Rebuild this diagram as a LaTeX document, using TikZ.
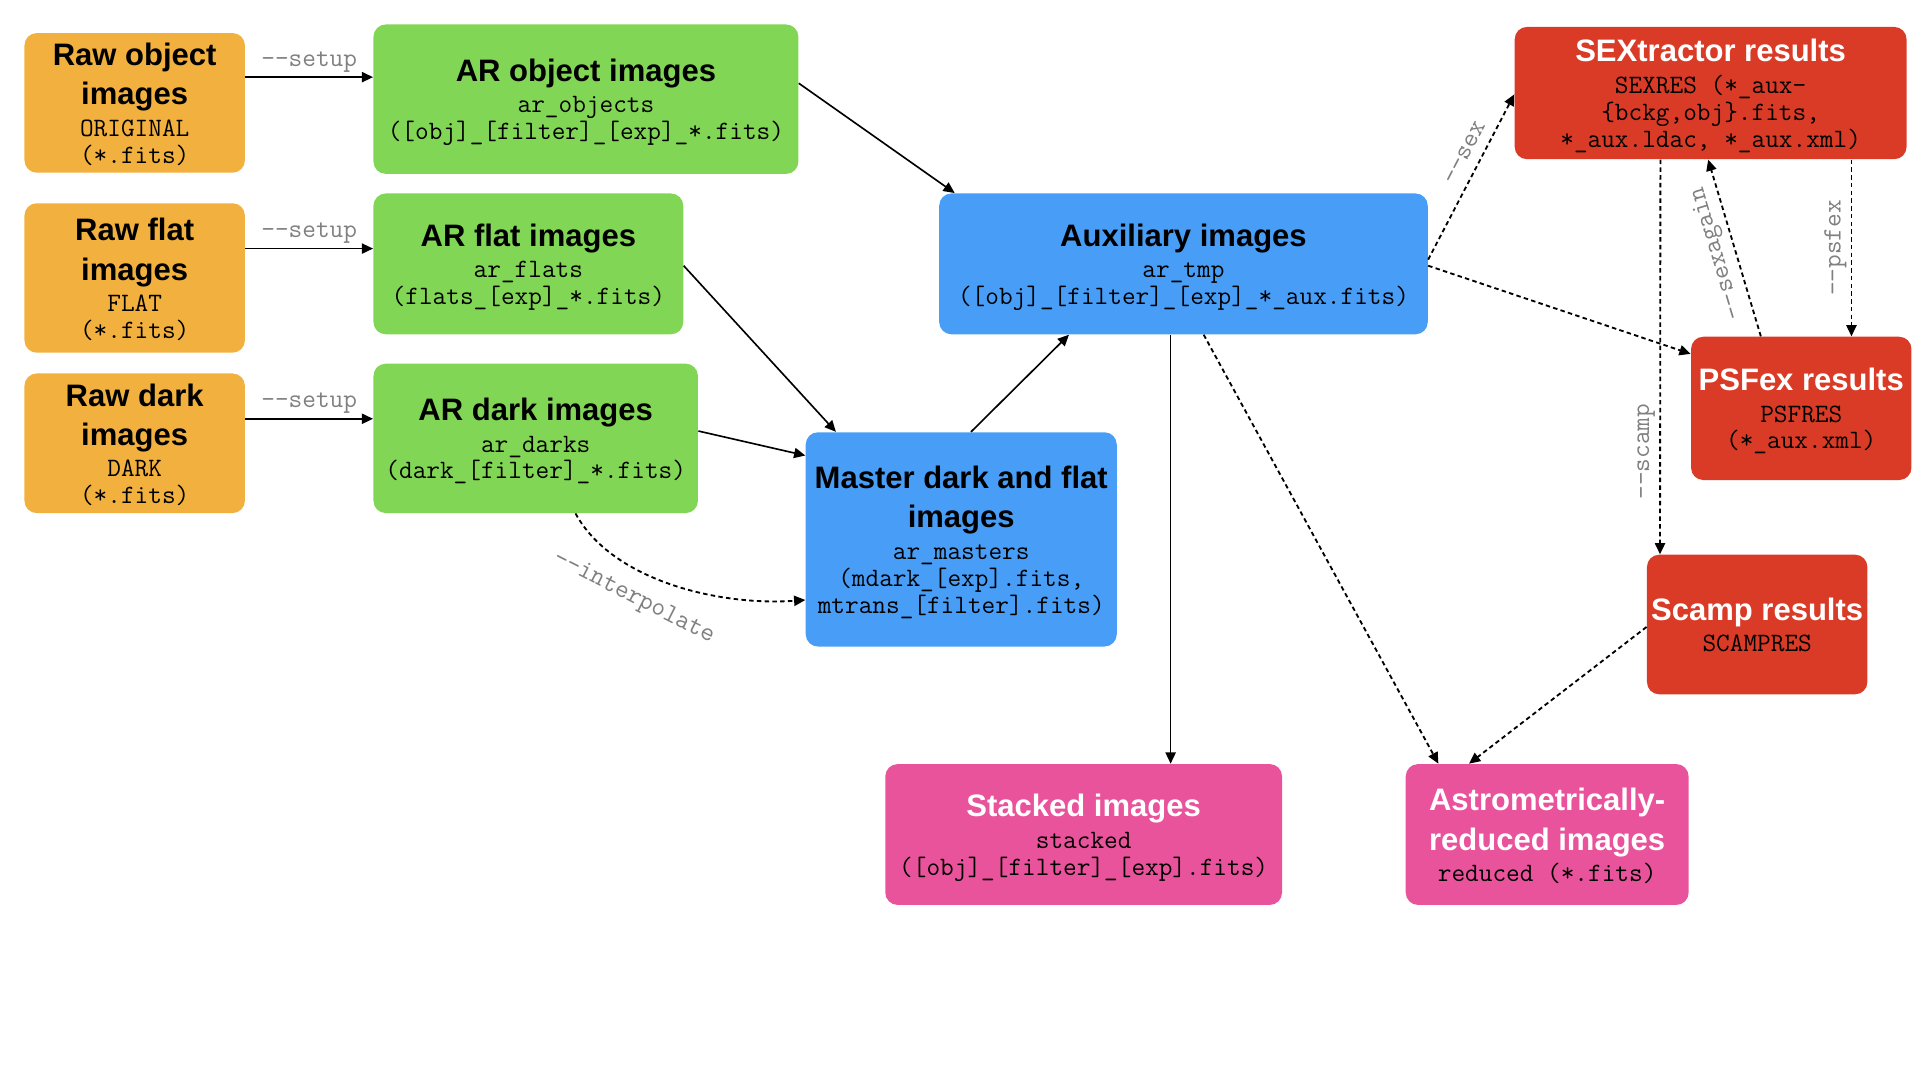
\documentclass[tikz,border=0pt]{standalone}
\usepackage{fontspec}
\setsansfont{Liberation Sans}
\usetikzlibrary{calc,arrows.meta}
\definecolor{corange}{HTML}{F2B13E}
\definecolor{cgreen}{HTML}{82D655}
\definecolor{cblue}{HTML}{489EF7}
\definecolor{cred}{HTML}{DA3B27}
\definecolor{cpink}{HTML}{E9539B}
\newcommand\Tl[1]{{\sffamily\bfseries\fontsize{15.2}{19}\selectfont\rule[-5pt]{0pt}{19.2pt}#1}}
\newcommand\Tw[1]{{\color{white}\sffamily\bfseries\fontsize{15.2}{19}\selectfont\rule[-5pt]{0pt}{19.2pt}#1}}
\newcommand\Ml[1]{{\ttfamily\fontsize{13}{14}\selectfont\rule[-2.9pt]{0pt}{13.2pt}#1}}
\newcommand\tightlines{\baselineskip=0pt\relax\lineskip=0pt\relax\lineskiplimit=0pt\relax}
\tikzset{
  box/.style={rounded corners=6pt, inner sep=0pt, align=center, font=\tightlines},
  arr/.style={line width=0.8pt, -{Triangle[length=5.5pt,width=5pt]}},
  darr/.style={arr, line width=0.9pt, dash pattern=on 2.2pt off 1.6pt},
  lbl/.style={font=\ttfamily\fontsize{13}{14}\selectfont, text=black!50, inner sep=2pt}
}
\begin{document}
\begin{tikzpicture}[x=0.6pt,y=-0.6pt]
\path[use as bounding box] (0,0) rectangle (1568,882);

% input boxes
\node[box, fill=corange, minimum width=108pt, minimum height=68.4pt] (rawobj) at (110,84)
  {\Tl{Raw object}\\\Tl{images}\\\Ml{ORIGINAL}\\\Ml{(*.fits)}};
\node[box, fill=corange, minimum width=108pt, minimum height=73.2pt] (rawflat) at (110,227)
  {\Tl{Raw flat}\\\Tl{images}\\\Ml{FLAT}\\\Ml{(*.fits)}};
\node[box, fill=corange, minimum width=108pt, minimum height=68.4pt] (rawdark) at (110,362)
  {\Tl{Raw dark}\\\Tl{images}\\\Ml{DARK}\\\Ml{(*.fits)}};

% AR boxes
\node[box, fill=cgreen, minimum width=208.2pt, minimum height=73.2pt] (arobj) at (478.5,81)
  {\Tl{AR object images}\\\Ml{ar\_objects}\\\Ml{([obj]\_[filter]\_[exp]\_*.fits)}};
\node[box, fill=cgreen, minimum width=151.8pt, minimum height=69pt] (arflat) at (431.5,215.5)
  {\Tl{AR flat images}\\\Ml{ar\_flats}\\\Ml{(flats\_[exp]\_*.fits)}};
\node[box, fill=cgreen, minimum width=159pt, minimum height=73.2pt] (ardark) at (437.5,358)
  {\Tl{AR dark images}\\\Ml{ar\_darks}\\\Ml{(dark\_[filter]\_*.fits)}};

% blue boxes
\node[box, fill=cblue, minimum width=152.4pt, minimum height=105pt] (master) at (785,440.5)
  {\Tl{Master dark and flat}\\\Tl{images}\\\Ml{ar\_masters}\\\Ml{(mdark\_[exp].fits,}\\\Ml{mtrans\_[filter].fits)}};
\node[box, fill=cblue, minimum width=239.4pt, minimum height=69pt] (aux) at (966.5,215.5)
  {\Tl{Auxiliary images}\\\Ml{ar\_tmp}\\\Ml{([obj]\_[filter]\_[exp]\_*\_aux.fits)}};

% red boxes
\node[box, fill=cred, minimum width=192pt, minimum height=64.8pt] (sex) at (1397,76)
  {\Tw{SEXtractor results}\\\Ml{SEXRES (*\_aux-}\\\Ml{\{bckg,obj\}.fits,}\\\Ml{*\_aux.ldac, *\_aux.xml)}};
\node[box, fill=cred, minimum width=108pt, minimum height=70.2pt] (psf) at (1471,333.5)
  {\Tw{PSFex results}\\\Ml{PSFRES}\\\Ml{(*\_aux.xml)}};
\node[box, fill=cred, minimum width=108pt, minimum height=68.4pt] (scamp) at (1435,510)
  {\Tw{Scamp results}\\\Ml{SCAMPRES}};

% pink boxes
\node[box, fill=cpink, minimum width=194.4pt, minimum height=69pt] (stacked) at (885,681.5)
  {\Tw{Stacked images}\\\Ml{stacked}\\\Ml{([obj]\_[filter]\_[exp].fits)}};
\node[box, fill=cpink, minimum width=138.6pt, minimum height=69pt] (astro) at (1263.5,681.5)
  {\Tw{Astrometrically-}\\\Tw{reduced images}\\\Ml{reduced (*.fits)}};

% setup arrows
\draw[arr] ($(rawobj.east)+(0,-21)$) -- node[lbl, above=0pt] {-{}-setup} ($(arobj.west)+(0,-18)$);
\draw[arr] ($(rawflat.east)+(0,-24)$) -- node[lbl, above=0pt] {-{}-setup} ($(arflat.west)+(0,-12.5)$);
\draw[arr] ($(rawdark.east)+(0,-20)$) -- node[lbl, above=0pt] {-{}-setup} ($(ardark.west)+(0,-16)$);

% solid flow
\draw[arr] ($(arobj.east)+(0,-13)$) -- ($(aux.north west)+(13,0)$);
\draw[arr] ($(arflat.east)+(0,1.5)$) -- ($(master.north west)+(25,0)$);
\draw[arr] ($(ardark.east)+(0,-6)$) -- ($(master.west)+(0,-68.5)$);
\draw[arr] ($(master.north)+(8,0)$) -- ($(aux.south)+(-93.5,0)$);
\draw[arr] ($(aux.south)+(-10.5,0)$) -- ($(stacked.north)+(71,0)$);

% interpolate
\draw[darr] ($(ardark.south)+(32.5,0)$) .. controls +(30,55) and +(-70,5) .. ($(master.west)+(0,49.5)$);
\node[lbl, rotate=-27] (interp) at ($(ardark.south)+(80,69)$) {-{}-interpolate};

% dotted flows
\draw[darr] ($(aux.south)+(16.5,0)$) -- ($(astro.north west)+(27,0)$);
\draw[darr] ($(aux.east)+(0,-3.5)$) -- node[lbl, sloped, above=3pt, pos=0.6] {-{}-sex} ($(sex.west)+(0,1)$);
\draw[darr] ($(aux.east)+(0,1.5)$) -- ($(psf.west)+(0,-44.5)$);
\draw[darr] ($(sex.south)+(115,0)$) -- node[lbl, rotate=90, anchor=south, pos=0.5] {-{}-psfex} ($(psf.north)+(41,0)$);
\draw[darr] ($(psf.north)+(-33,0)$) -- node[lbl, sloped, allow upside down, above=1pt, pos=0.5] {-{}-sexagain} ($(sex.south)+(-2,0)$);
\draw[darr] ($(sex.south)+(-41,0)$) -- node[lbl, rotate=90, anchor=south, pos=0.74] {-{}-scamp} ($(scamp.north west)+(11,0)$);
\draw[darr] ($(scamp.west)+(0,2)$) -- ($(astro.north west)+(52,0)$);
\end{tikzpicture}
\end{document}
